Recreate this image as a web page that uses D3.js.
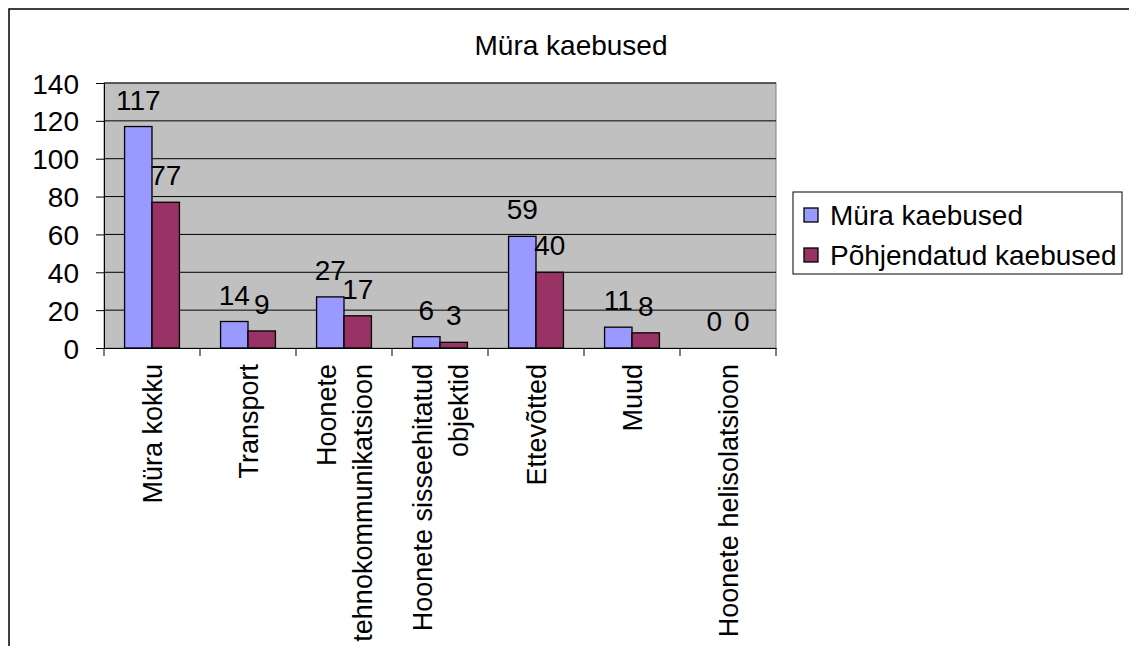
<!DOCTYPE html>
<html>
<head>
<meta charset="utf-8">
<script src="https://cdn.jsdelivr.net/npm/d3@7"></script>
<style>
  body { margin: 0; background: #fff; }
  text { font-family: "Liberation Sans", Arial, sans-serif; fill: #000; }
</style>
</head>
<body>
<div class="main"></div>
<script>
// Dados do grafico
var categorias = ["Müra kokku", "Transport", "Hoonete tehnokommunikatsioon",
                  "Hoonete sisseehitatud objektid", "Ettevõtted", "Muud", "Hoonete helisolatsioon"];
// rotulos quebrados em linhas como no original
var rotulos = [["Müra kokku"], ["Transport"], ["Hoonete", "tehnokommunikatsioon"],
               ["Hoonete sisseehitatud", "objektid"], ["Ettevõtted"], ["Muud"], ["Hoonete helisolatsioon"]];
var series     = ["Müra kaebused", "Põhjendatud kaebused"];
var muraKaebused = [117, 14, 27, 6, 59, 11, 0];
var pohjendatud  = [77, 9, 17, 3, 40, 8, 0];
var yTicks = [0, 20, 40, 60, 80, 100, 120, 140];
var titulo = "Müra kaebused";

var cores = ["#9999FF", "#993366"];
var width = 1129, height = 646;
var plot = {left: 104, top: 83, right: 776, bottom: 348};
var fs = 28;

var svg = d3.select('.main').append('svg')
            .attr('width', width)
            .attr('height', height);

// moldura externa
svg.append('path')
   .attr('d', 'M9,' + height + ' L9,9 L' + width + ',9')
   .attr('fill', 'none')
   .attr('stroke', '#000')
   .attr('stroke-width', 1.5);

// Escalas
var x = d3.scaleBand().domain(d3.range(categorias.length)).range([plot.left, plot.right]);
var xs = d3.scaleBand().domain(d3.range(series.length)).range([0, x.bandwidth()]).paddingOuter(0.75);
var y = d3.scaleLinear().domain([0, 140]).range([plot.bottom, plot.top]);

// area do grafico
svg.append('rect')
   .attr('x', plot.left).attr('y', plot.top)
   .attr('width', plot.right - plot.left).attr('height', plot.bottom - plot.top)
   .attr('fill', '#C0C0C0')
   .attr('stroke', '#808080');

// grade
svg.append('g').selectAll('line').data(yTicks.slice(1)).enter().append('line')
   .attr('x1', plot.left).attr('x2', plot.right)
   .attr('y1', d => y(d)).attr('y2', d => y(d))
   .attr('stroke', '#000').attr('stroke-width', 1);

// barras
var dados = [muraKaebused, pohjendatud];
dados.forEach(function(vals, s) {
    svg.append('g').selectAll('rect').data(vals).enter().append('rect')
       .filter(d => d > 0)
       .attr('x', (d, i) => x(i) + xs(s))
       .attr('y', d => y(d))
       .attr('width', xs.bandwidth())
       .attr('height', d => y(0) - y(d))
       .attr('fill', cores[s])
       .attr('stroke', '#000')
       .attr('stroke-width', 1.3);
});

// rotulos de valor
dados.forEach(function(vals, s) {
    svg.append('g').selectAll('text').data(vals).enter().append('text')
       .attr('x', (d, i) => x(i) + xs(s) + xs.bandwidth() / 2)
       .attr('y', d => y(d) - 17)
       .attr('text-anchor', 'middle')
       .style('font-size', fs + 'px')
       .text(d => d);
});

// eixo y
var yAxis = svg.append('g')
   .attr('transform', 'translate(' + plot.left + ',0)')
   .call(d3.axisLeft(y).tickValues(yTicks).tickSize(8).tickPadding(17));
yAxis.selectAll('text').style('font-size', fs + 'px').attr('dy', '0.36em')
     .style('font-family', '"Liberation Sans", Arial, sans-serif');
yAxis.selectAll('line, path').attr('stroke', '#000');

// eixo x
var xAxis = svg.append('g')
   .attr('transform', 'translate(0,' + plot.bottom + ')')
   .call(d3.axisBottom(x).tickSize(0).tickFormat(''));
xAxis.select('path').attr('stroke', '#000');
svg.append('g').selectAll('line')
   .data(d3.range(categorias.length + 1)).enter().append('line')
   .attr('x1', d => d < categorias.length ? x(d) : plot.right)
   .attr('x2', d => d < categorias.length ? x(d) : plot.right)
   .attr('y1', plot.bottom).attr('y2', plot.bottom + 8)
   .attr('stroke', '#000');

// rotulos das categorias (rotacionados)
var lh = 36, fsx = 27;
rotulos.forEach(function(linhas, i) {
    var cx = x(i) + x.bandwidth() / 2;
    var t = svg.append('text')
       .attr('transform', 'translate(' + cx + ',364) rotate(-90)')
       .attr('text-anchor', 'end')
       .style('font-size', fsx + 'px');
    var b0 = 9.5 - (linhas.length - 1) * lh / 2;
    linhas.forEach(function(l, k) {
        t.append('tspan').attr('x', 0).attr('y', b0 + k * lh).text(l);
    });
});

// titulo
svg.append('text')
   .attr('x', 571).attr('y', 55)
   .attr('text-anchor', 'middle')
   .style('font-size', fs + 'px')
   .text(titulo);

// legenda
var leg = svg.append('g');
leg.append('rect')
   .attr('x', 793).attr('y', 192).attr('width', 329).attr('height', 82)
   .attr('fill', '#fff').attr('stroke', '#000');
series.forEach(function(s, i) {
    var cy = 215 + i * 40;
    leg.append('rect')
       .attr('x', 804).attr('y', cy - 7).attr('width', 14).attr('height', 14)
       .attr('fill', cores[i]).attr('stroke', '#000').attr('stroke-width', 1.3);
    leg.append('text')
       .attr('x', 830).attr('y', cy + 10)
       .style('font-size', fs + 'px')
       .text(s);
});
</script>
</body>
</html>
